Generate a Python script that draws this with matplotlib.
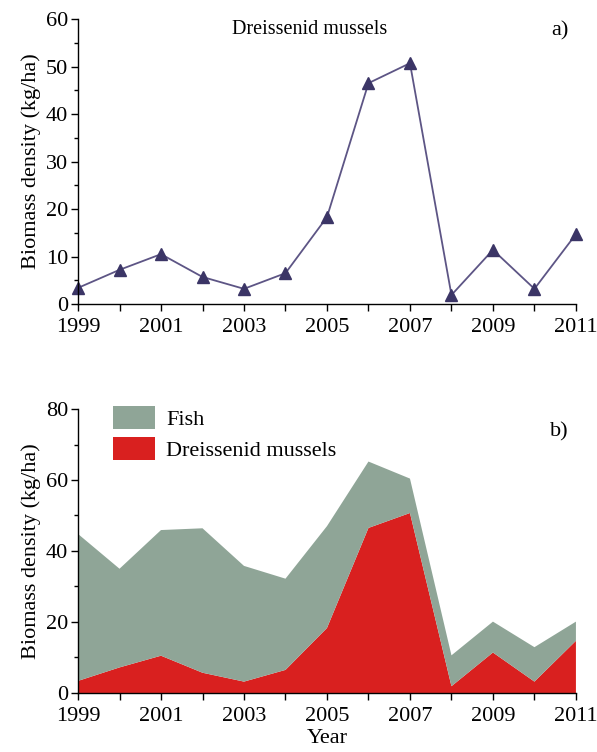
import matplotlib
matplotlib.use("Agg")
import matplotlib.pyplot as plt
from matplotlib.ticker import MultipleLocator
from matplotlib.patches import Patch

years = [1999, 2000, 2001, 2002, 2003, 2004, 2005, 2006, 2007, 2008, 2009, 2010, 2011]
mussels = [3.4, 7.2, 10.5, 5.7, 3.2, 6.5, 18.3, 46.5, 50.7, 1.9, 11.4, 3.2, 14.7]
total = [44.8, 35.0, 45.9, 46.4, 35.8, 32.2, 47.0, 65.2, 60.4, 10.6, 20.1, 12.9, 20.1]
fish = [t - m for t, m in zip(total, mussels)]

plt.rcParams['font.family'] = ['Liberation Serif', 'DejaVu Serif']
plt.rcParams['font.size'] = 16

green = '#8fa597'
red = '#d9201f'

fig = plt.figure(figsize=(5.97, 7.52), dpi=100)

# --- a) mussels line
ax1 = fig.add_axes([0.1307, 0.5957, 0.834, 0.379])
ax1.plot(years, mussels, color='#5d5585', lw=1.3, marker='^', ms=8,
         markerfacecolor='#3b3566', markeredgecolor='#3b3566', clip_on=False)
ax1.set_xlim(1999, 2011)
ax1.set_ylim(0, 60)
ax1.yaxis.set_major_locator(MultipleLocator(10))
ax1.yaxis.set_minor_locator(MultipleLocator(5))
ax1.set_xticks(years)
ax1.set_xticklabels([str(y) if i % 2 == 0 else '' for i, y in enumerate(years)])
ax1.set_ylabel('Biomass density (kg/ha)', fontsize=16, labelpad=4)
ax1.text(0.465, 0.965, 'Dreissenid mussels', transform=ax1.transAxes,
         ha='center', va='center', fontsize=14.5)
ax1.text(0.985, 0.96, 'a)', transform=ax1.transAxes, ha='right', va='center', fontsize=16)

# --- b) stacked area
ax2 = fig.add_axes([0.1307, 0.0785, 0.834, 0.3776])
ax2.stackplot(years, mussels, fish, colors=[red, green], linewidth=0)
ax2.set_xlim(1999, 2011)
ax2.set_ylim(0, 80)
ax2.yaxis.set_major_locator(MultipleLocator(20))
ax2.yaxis.set_minor_locator(MultipleLocator(10))
ax2.set_xticks(years)
ax2.set_xticklabels([str(y) if i % 2 == 0 else '' for i, y in enumerate(years)])
ax2.set_ylabel('Biomass density (kg/ha)', fontsize=16, labelpad=4)
ax2.set_xlabel('Year', fontsize=16, labelpad=2)
handles = [Patch(facecolor=green, edgecolor='none'), Patch(facecolor=red, edgecolor='none')]
ax2.legend(handles, ['Fish', 'Dreissenid mussels'], loc='upper left',
           bbox_to_anchor=(0.03, 1.08), frameon=False, fontsize=16,
           handlelength=1.9, handleheight=1.2, handletextpad=0.5, labelspacing=0.3)
ax2.text(0.985, 0.92, 'b)', transform=ax2.transAxes, ha='right', va='center', fontsize=16)

for ax in (ax1, ax2):
    ax.spines['top'].set_visible(False)
    ax.spines['right'].set_visible(False)
    ax.spines['left'].set_linewidth(1.0)
    ax.spines['bottom'].set_linewidth(1.0)
    ax.tick_params(axis='x', which='major', direction='out', length=5, width=1, pad=5)
    ax.tick_params(axis='y', which='major', direction='out', length=5, width=1, pad=2)
    ax.tick_params(axis='y', which='minor', direction='out', length=3, width=1)

fig.savefig('out.png', dpi=100)
